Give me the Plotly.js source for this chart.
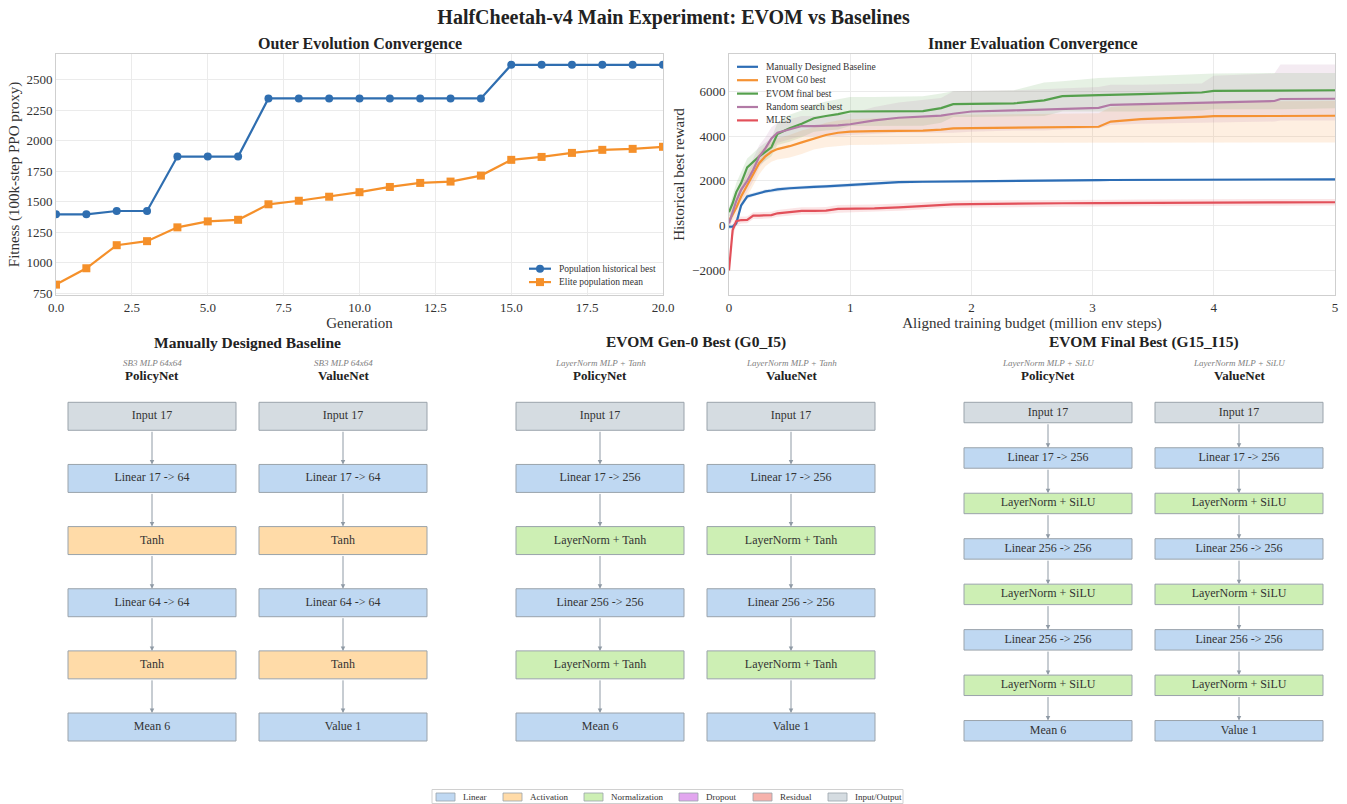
<!DOCTYPE html>
<html>
<head>
<meta charset="utf-8">
<script src="https://cdn.plot.ly/plotly-3.0.1.min.js"></script>
<style>html,body{margin:0;padding:0;background:#fff;}#chart{width:1347px;height:804px;}</style>
</head>
<body>
<div id="chart"></div>
<script>
// ---------------- DATA ----------------
const generations = [0,1,2,3,4,5,6,7,8,9,10,11,12,13,14,15,16,17,18,19,20];
const populationBest = [1397,1397,1424,1424,1870,1870,1870,2346,2346,2346,2346,2346,2346,2346,2346,2621,2621,2621,2621,2621,2621];
const eliteMean = [821,955,1144,1177,1290,1339,1352,1479,1508,1541,1578,1621,1654,1665,1714,1843,1867,1900,1925,1933,1950];
const outerNames = ["Population historical best","Elite population mean"];

const budget = [0,0.03,0.06,0.1,0.15,0.2,0.25,0.3,0.35,0.4,0.5,0.6,0.7,0.8,0.9,1.0,1.2,1.4,1.6,1.75,1.85,2.0,2.35,2.6,2.75,3.05,3.15,3.4,3.9,4.0,4.5,4.55,5.0];

const baselineMean  = [-50,-50,100,900,1300,1380,1480,1530,1570,1620,1670,1710,1730,1750,1780,1820,1880,1940,1960,1970,1980,2000,2010,2020,2025,2035,2040,2045,2050,2055,2060,2060,2070];
const baselineLower = [-150,-150,-20,780,1200,1290,1400,1450,1490,1540,1590,1630,1650,1670,1690,1730,1800,1880,1910,1920,1930,1950,1960,1970,1975,1985,1990,1995,2000,2005,2010,2010,2020];
const baselineUpper = [50,50,220,1020,1400,1470,1560,1610,1650,1700,1750,1790,1810,1830,1870,1910,1960,2000,2010,2020,2030,2050,2060,2070,2075,2085,2090,2095,2100,2105,2110,2110,2120];

const g0Mean  = [200,500,800,1300,1800,2300,2800,3100,3300,3420,3550,3720,3900,4050,4150,4200,4220,4230,4250,4290,4350,4360,4380,4390,4400,4420,4650,4760,4860,4890,4900,4900,4910];
const g0Lower = [0,200,400,800,1300,1800,2300,2650,2850,2950,3050,3200,3400,3500,3550,3600,3620,3640,3660,3680,3700,3700,3700,3700,3700,3700,3710,3710,3710,3720,3720,3720,3720];
const g0Upper = [450,800,1200,1800,2300,2800,3300,3550,3750,3900,4050,4250,4400,4600,4700,4750,4800,4820,4840,4880,4950,4960,4980,5000,5000,5020,5300,5400,5500,5550,5560,5560,5570];

const finalMean  = [600,1000,1500,1900,2600,2850,3100,3300,3500,4100,4350,4550,4800,4900,4980,5100,5100,5110,5120,5250,5430,5440,5460,5600,5790,5830,5850,5880,5950,6020,6030,6030,6050];
const finalLower = [400,600,1100,1400,2200,2450,2700,2900,3100,3600,3750,3950,4200,4250,4300,4450,4450,4450,4460,4600,4850,4860,4870,4900,5100,5100,5100,5100,5150,5200,5200,5200,5250];
const finalUpper = [800,1400,1900,2400,3000,3250,3500,3700,3900,4600,4950,5150,5400,5550,5650,5750,5750,5770,5780,5900,6000,6020,6050,6400,6450,6600,6620,6700,6800,6800,6820,6820,6820];

const randomMean  = [100,600,1100,1600,2000,2500,3100,3450,3900,4150,4300,4450,4450,4460,4480,4530,4700,4820,4870,4920,5000,5100,5150,5180,5200,5260,5400,5430,5500,5530,5570,5660,5670];
const randomLower = [-100,300,700,1100,1500,2000,2600,2950,3400,3700,3850,4000,4000,4000,4000,4050,4100,4150,4150,4150,4150,4200,4250,4250,4300,4350,4500,4550,4600,4600,4650,4700,4700];
const randomUpper = [300,900,1500,2100,2500,3000,3600,3950,4400,4600,4750,4900,4900,4920,4950,5000,5300,5500,5600,5700,6000,6030,6050,6100,6150,6200,6300,6300,6350,6700,6800,7200,7200];

const mlesMean  = [-2000,-200,200,250,260,450,450,460,470,550,600,660,660,670,750,750,770,820,880,950,950,960,990,1000,1000,1010,1010,1015,1020,1020,1030,1040,1045];
const mlesLower = [-2100,-500,0,100,110,300,300,320,330,400,450,500,500,510,580,590,610,660,720,790,800,810,840,850,850,860,860,865,870,870,880,890,895];
const mlesUpper = [-1900,100,400,400,410,600,600,610,620,700,760,820,820,830,920,920,940,990,1050,1110,1110,1120,1140,1150,1150,1160,1160,1165,1170,1170,1180,1190,1195];

const seriesNames = ["Manually Designed Baseline","EVOM G0 best","EVOM final best","Random search best","MLES"];

const panelTitles = ["Manually Designed Baseline","EVOM Gen-0 Best (G0_I5)","EVOM Final Best (G15_I15)"];
const panelSubtitles = ["SB3 MLP 64x64","LayerNorm MLP + Tanh","LayerNorm MLP + SiLU"];
const netNames = ["PolicyNet","ValueNet"];

const baselinePolicyLayers = ["Input 17","Linear 17 -> 64","Tanh","Linear 64 -> 64","Tanh","Mean 6"];
const baselinePolicyTypes  = ["io","linear","activation","linear","activation","linear"];
const baselineValueLayers  = ["Input 17","Linear 17 -> 64","Tanh","Linear 64 -> 64","Tanh","Value 1"];
const baselineValueTypes   = ["io","linear","activation","linear","activation","linear"];
const g0PolicyLayers = ["Input 17","Linear 17 -> 256","LayerNorm + Tanh","Linear 256 -> 256","LayerNorm + Tanh","Mean 6"];
const g0PolicyTypes  = ["io","linear","normalization","linear","normalization","linear"];
const g0ValueLayers  = ["Input 17","Linear 17 -> 256","LayerNorm + Tanh","Linear 256 -> 256","LayerNorm + Tanh","Value 1"];
const g0ValueTypes   = ["io","linear","normalization","linear","normalization","linear"];
const finalPolicyLayers = ["Input 17","Linear 17 -> 256","LayerNorm + SiLU","Linear 256 -> 256","LayerNorm + SiLU","Linear 256 -> 256","LayerNorm + SiLU","Mean 6"];
const finalPolicyTypes  = ["io","linear","normalization","linear","normalization","linear","normalization","linear"];
const finalValueLayers  = ["Input 17","Linear 17 -> 256","LayerNorm + SiLU","Linear 256 -> 256","LayerNorm + SiLU","Linear 256 -> 256","LayerNorm + SiLU","Value 1"];
const finalValueTypes   = ["io","linear","normalization","linear","normalization","linear","normalization","linear"];

const blockCategories = ["linear","activation","normalization","dropout","residual","io"];
const blockLabels = ["Linear","Activation","Normalization","Dropout","Residual","Input/Output"];

// ---------------- STYLE / LAYOUT CONSTANTS ----------------
const W = 1347, H = 804;
const FONT = "Liberation Serif, 'Times New Roman', serif";
const TXT = "#333333";
const blockColors = {linear:"#bfd8f2", activation:"#ffdba8", normalization:"#cdefb4", dropout:"#e2a6ef", residual:"#f6b2ac", io:"#d5dce1"};
const outerColors = ["#2f6eb0", "#f5902a"];
const seriesColors = ["#2c6db5","#f59233","#55a04d","#b27aa6","#e2505a"];
const bandColors = ["rgba(44,109,181,0.15)","rgba(245,146,51,0.15)","rgba(85,160,77,0.15)","rgba(178,122,166,0.15)","rgba(226,80,90,0.15)"];
const columnCenters = [152, 343, 600, 791, 1048, 1239];
const boxW = 168, stackTop = 402.3, stackBottom = 741, boxRatio = 0.45;
const legendSwatchX = [436, 503, 584, 679, 753, 828];
const px = v => v / W, py = v => 1 - v / H;

const nets = [
  [baselinePolicyLayers, baselinePolicyTypes], [baselineValueLayers, baselineValueTypes],
  [g0PolicyLayers, g0PolicyTypes], [g0ValueLayers, g0ValueTypes],
  [finalPolicyLayers, finalPolicyTypes], [finalValueLayers, finalValueTypes]
];

// ---------------- TRACES ----------------
const traces = [];
traces.push({x: generations, y: populationBest, xaxis:'x', yaxis:'y', mode:'lines+markers', name: outerNames[0],
  line:{color:outerColors[0], width:2.2}, marker:{symbol:'circle', size:8, color:outerColors[0]}, showlegend:false});
traces.push({x: generations, y: eliteMean, xaxis:'x', yaxis:'y', mode:'lines+markers', name: outerNames[1],
  line:{color:outerColors[1], width:2.2}, marker:{symbol:'square', size:8, color:outerColors[1]}, showlegend:false});

const means = [baselineMean, g0Mean, finalMean, randomMean, mlesMean];
const lowers = [baselineLower, g0Lower, finalLower, randomLower, mlesLower];
const uppers = [baselineUpper, g0Upper, finalUpper, randomUpper, mlesUpper];
for (let s = 0; s < 5; s++) {
  traces.push({x: budget, y: lowers[s], xaxis:'x2', yaxis:'y2', mode:'lines', line:{width:0, color:bandColors[s]}, showlegend:false, hoverinfo:'skip'});
  traces.push({x: budget, y: uppers[s], xaxis:'x2', yaxis:'y2', mode:'lines', line:{width:0, color:bandColors[s]}, fill:'tonexty', fillcolor:bandColors[s], showlegend:false, hoverinfo:'skip'});
}
for (let s = 0; s < 5; s++) {
  traces.push({x: budget, y: means[s], xaxis:'x2', yaxis:'y2', mode:'lines', name: seriesNames[s], line:{color:seriesColors[s], width:2.2}, showlegend:false});
}

// ---------------- DIAGRAMS ----------------
const shapes = [];
const annotations = [];
const labelX = [], labelY = [], labelT = [];

nets.forEach((net, k) => {
  const layers = net[0], types = net[1];
  const cx = columnCenters[k];
  const n = layers.length;
  const step = (stackBottom - stackTop) / (n - 1 + boxRatio);
  const h = boxRatio * step;
  layers.forEach((lab, i) => {
    const top = stackTop + i * step;
    shapes.push({type:'rect', xref:'x3', yref:'y3', x0: cx - boxW/2, x1: cx + boxW/2, y0: top, y1: top + h,
      fillcolor: blockColors[types[i]], line:{color:'#9aa3ab', width:1}, layer:'below'});
    labelX.push(cx); labelY.push(top + h/2); labelT.push(lab);
    if (i < n - 1) {
      annotations.push({xref:'x3', yref:'y3', axref:'x3', ayref:'y3', x: cx, y: top + step, ax: cx, ay: top + h,
        text:'', showarrow:true, arrowhead:2, arrowsize:0.9, arrowwidth:1, arrowcolor:'#8f9aa5', standoff:0, startstandoff:0});
    }
  });
  const p = Math.floor(k/2);
  annotations.push({xref:'x3', yref:'y3', x: cx, y: 363, xanchor:'center', yanchor:'middle', text:'<i>' + panelSubtitles[p] + '</i>', showarrow:false,
    font:{family:FONT, size:9, color:'#808080'}});
  annotations.push({xref:'x3', yref:'y3', x: cx, y: 376, xanchor:'center', yanchor:'middle', text:'<b>' + netNames[k % 2] + '</b>', showarrow:false,
    font:{family:FONT, size:13, color:'#222'}});
});
panelTitles.forEach((t, p) => {
  annotations.push({xref:'x3', yref:'y3', x: (columnCenters[2*p] + columnCenters[2*p+1]) / 2, y: 342.5, xanchor:'center', yanchor:'middle',
    text:'<b>' + t + '</b>', showarrow:false, font:{family:FONT, size:15.5, color:'#222'}});
});

traces.push({x: labelX, y: labelY, text: labelT, xaxis:'x3', yaxis:'y3', mode:'text', textposition:'middle center',
  textfont:{family:FONT, size:12, color:TXT}, showlegend:false, hoverinfo:'skip'});

// bottom block-type legend
shapes.push({type:'rect', xref:'x3', yref:'y3', x0:432, x1:903, y0:789.5, y1:803.5, fillcolor:'#ffffff', line:{color:'#d0d0d0', width:1}, layer:'below'});
blockCategories.forEach((c, i) => {
  const x0 = legendSwatchX[i];
  shapes.push({type:'rect', xref:'x3', yref:'y3', x0:x0, x1:x0 + 19, y0:793, y1:801, fillcolor:blockColors[c], line:{color:'#9aa3ab', width:0.8}, layer:'below'});
  annotations.push({xref:'x3', yref:'y3', x: x0 + 25, y: 797, xanchor:'left', yanchor:'middle', text: blockLabels[i], showarrow:false,
    font:{family:FONT, size:9, color:TXT}});
});

// compact legends for the two top plots
outerNames.forEach((name, i) => {
  const yy = 268.7 + 13.4 * i;
  shapes.push({type:'line', xref:'paper', yref:'paper', x0: px(529), x1: px(551), y0: py(yy), y1: py(yy), line:{color:outerColors[i], width:2.2}});
  shapes.push({type: i === 0 ? 'circle' : 'rect', xref:'paper', yref:'paper', x0: px(536), x1: px(544), y0: py(yy + 4), y1: py(yy - 4),
    fillcolor: outerColors[i], line:{width:0}});
  annotations.push({xref:'paper', yref:'paper', x: px(557), y: py(yy), xanchor:'left', yanchor:'middle', text: name, showarrow:false,
    font:{family:FONT, size:9.5, color:TXT}});
});
seriesNames.forEach((name, i) => {
  const yy = 66.8 + 13.4 * i;
  shapes.push({type:'line', xref:'paper', yref:'paper', x0: px(737), x1: px(758), y0: py(yy), y1: py(yy), line:{color:seriesColors[i], width:2.2}});
  annotations.push({xref:'paper', yref:'paper', x: px(764), y: py(yy), xanchor:'left', yanchor:'middle', text: name, showarrow:false,
    font:{family:FONT, size:9.5, color:TXT}});
});

// subplot titles
annotations.push({xref:'paper', yref:'paper', x: px((56 + 663) / 2), y: py(44), xanchor:'center', yanchor:'middle',
  text:'<b>Outer Evolution Convergence</b>', showarrow:false, font:{family:FONT, size:16, color:'#222'}});
annotations.push({xref:'paper', yref:'paper', x: px((729 + 1335) / 2), y: py(44), xanchor:'center', yanchor:'middle',
  text:'<b>Inner Evaluation Convergence</b>', showarrow:false, font:{family:FONT, size:16, color:'#222'}});

// ---------------- LAYOUT ----------------
const axisCommon = {showgrid:true, gridcolor:'#ebebeb', gridwidth:1, showline:true, linecolor:'#cfcfcf', linewidth:1, mirror:true,
  zeroline:false, ticks:'', tickfont:{family:FONT, size:13, color:TXT}, automargin:false};
const topDomain = [py(295), py(54)];

const layout = {
  width: W, height: H,
  margin: {l:0, r:0, t:0, b:0, pad:0},
  paper_bgcolor:'#ffffff', plot_bgcolor:'#ffffff',
  font:{family:FONT, color:TXT},
  title:{text:'<b>HalfCheetah-v4 Main Experiment: EVOM vs Baselines</b>', x:0.5, xanchor:'center', y: py(17), yanchor:'middle',
    font:{family:FONT, size:20, color:'#222'}},
  xaxis: Object.assign({}, axisCommon, {domain:[px(56), px(663)], anchor:'y', range:[0, 20], dtick:2.5, tick0:0, tickformat:'.1f',
    title:{text:'Generation', font:{family:FONT, size:15, color:TXT}, standoff:3}}),
  yaxis: Object.assign({}, axisCommon, {domain: topDomain, anchor:'x', range:[736, 2710], dtick:250, tick0:0,
    title:{text:'Fitness (100k-step PPO proxy)', font:{family:FONT, size:15, color:TXT}, standoff:3}}),
  xaxis2: Object.assign({}, axisCommon, {domain:[px(729), px(1335)], anchor:'y2', range:[0, 5], dtick:1, tick0:0,
    title:{text:'Aligned training budget (million env steps)', font:{family:FONT, size:15, color:TXT}, standoff:3}}),
  yaxis2: Object.assign({}, axisCommon, {domain: topDomain, anchor:'x2', range:[-3100, 7670], dtick:2000, tick0:0,
    title:{text:'Historical best reward', font:{family:FONT, size:15, color:TXT}, standoff:3}}),
  xaxis3: {domain:[0, 1], anchor:'y3', range:[0, W], visible:false, fixedrange:true},
  yaxis3: {domain:[0, py(330)], anchor:'x3', range:[H, 330], visible:false, fixedrange:true},
  shapes: shapes,
  annotations: annotations,
  showlegend: false
};

Plotly.newPlot('chart', traces, layout, {displayModeBar:false, staticPlot:true});
</script>
</body>
</html>
